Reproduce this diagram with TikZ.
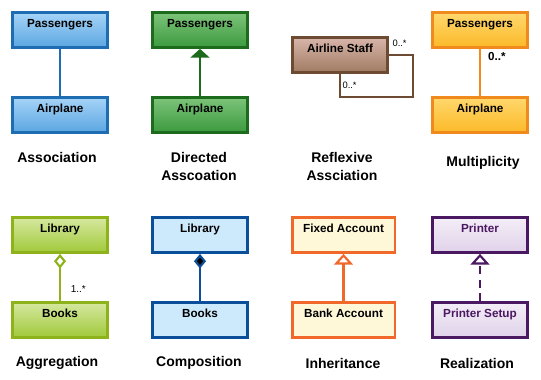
\documentclass[tikz,border=0pt]{standalone}
\usepackage{fontspec}
\setmainfont{Liberation Sans}
\usetikzlibrary{positioning,arrows.meta}

\definecolor{asTop}{HTML}{A6D4F8}
\definecolor{asBot}{HTML}{5BA6E1}
\definecolor{asLine}{HTML}{1E6CB1}
\definecolor{dirTop}{HTML}{7DC47A}
\definecolor{dirBot}{HTML}{3C9A3E}
\definecolor{dirLine}{HTML}{1D6B1D}
\definecolor{refTop}{HTML}{D8B5AA}
\definecolor{refBot}{HTML}{A07B62}
\definecolor{refLine}{HTML}{6D4B32}
\definecolor{mulTop}{HTML}{FFD86E}
\definecolor{mulBot}{HTML}{FBB928}
\definecolor{mulLine}{HTML}{F08A1C}
\definecolor{aggTop}{HTML}{D6E8A0}
\definecolor{aggBot}{HTML}{A0C93A}
\definecolor{aggLine}{HTML}{8DB21A}
\definecolor{comFill}{HTML}{CDEAFD}
\definecolor{comLine}{HTML}{0B4E99}
\definecolor{inhFill}{HTML}{FEF8D8}
\definecolor{inhLine}{HTML}{F0692B}
\definecolor{reaTop}{HTML}{F4EEF7}
\definecolor{reaBot}{HTML}{E0D2EA}
\definecolor{reaLine}{HTML}{4B1862}

\tikzstyle{cls}=[draw, line width=2pt, minimum width=71.5pt, inner xsep=2pt,
        inner ysep=0pt, text height=11.3pt, text depth=15pt,
        font=\fontsize{8.8}{10}\selectfont\bfseries]
\tikzstyle{caption}=[align=center, font=\fontsize{10.5}{13.5}\selectfont\bfseries]
\tikzstyle{mult}=[text=black, font=\fontsize{7}{8}\selectfont, inner sep=1pt]
\tikzstyle{rel}=[line width=1.6pt]

\begin{document}
\begin{tikzpicture}[x=0.75pt, y=-0.75pt, node distance=35.25pt]
        \useasboundingbox (0,0) rectangle (541,379);

        % association
        \node[cls, top color=asTop, bottom color=asBot, draw=asLine] (pas1) at (60,30) {Passengers};
        \node[cls, top color=asTop, bottom color=asBot, draw=asLine, below=of pas1] (air1) {Airplane};
        \draw[rel, asLine] (pas1) to (air1);
        \node[caption] (cap1) at (57,157) {Association};

        % directed association
        \node[cls, top color=dirTop, bottom color=dirBot, draw=dirLine] (pas2) at (200,30) {Passengers};
        \node[cls, top color=dirTop, bottom color=dirBot, draw=dirLine, below=of pas2] (air2) {Airplane};
        \draw[rel, dirLine, -{Triangle[width=14pt, length=6.5pt]}] (air2) to (pas2);
        \node[caption] (cap2) at (199,166) {Directed\\Asscoation};

        % reflexive association
        \node[cls, top color=refTop, bottom color=refBot, draw=refLine] (staff) at (340,55) {Airline Staff};
        \coordinate (loop) at (413,97);
        \draw[rel, refLine] (staff.east) -| (loop) -| (staff.south);
        \node[mult, anchor=west] (m1) at (391,43) {0..*};
        \node[mult, anchor=west] (m2) at (341,85) {0..*};
        \node[caption] (cap3) at (342,166) {Reflexive\\Assciation};

        % multiplicity
        \node[cls, top color=mulTop, bottom color=mulBot, draw=mulLine] (pas4) at (480,30) {Passengers};
        \node[cls, top color=mulTop, bottom color=mulBot, draw=mulLine, below=of pas4] (air4) {Airplane};
        \draw[rel, mulLine] (pas4) to node[pos=0.17, right, xshift=2pt, text=black,
            font=\fontsize{8.7}{10}\selectfont\bfseries] {0..*} (air4);
        \node[caption] (cap4) at (483,163) {Multiplicity};

        % aggregation
        \node[cls, top color=aggTop, bottom color=aggBot, draw=aggLine] (lib1) at (60,235) {Library};
        \node[cls, top color=aggTop, bottom color=aggBot, draw=aggLine, below=of lib1] (bk1) {Books};
        \draw[rel, aggLine, -{Diamond[open, fill=white, width=9pt, length=11pt]}] (bk1) to
            node[pos=0.25, right, xshift=4pt, text=black, font=\fontsize{7.5}{9}\selectfont] {1..*} (lib1);
        \node[caption] (cap5) at (57,363) {Aggregation};

        % composition
        \node[cls, fill=comFill, draw=comLine] (lib2) at (200,235) {Library};
        \node[cls, fill=comFill, draw=comLine, below=of lib2] (bk2) {Books};
        \draw[rel, comLine, -{Diamond[fill=black, width=9pt, length=11pt]}] (bk2) to (lib2);
        \node[caption] (cap6) at (199,363) {Composition};

        % inheritance
        \node[cls, fill=inhFill, draw=inhLine, minimum width=77pt] (fixed) at (343.5,235) {Fixed Account};
        \node[cls, fill=inhFill, draw=inhLine, minimum width=77pt, below=of fixed] (bank) {Bank Account};
        \draw[rel, inhLine, -{Triangle[open, fill=white, width=14pt, length=8pt]}] (bank) to (fixed);
        \node[caption] (cap7) at (343,363) {Inheritance};

        % realization
        \node[cls, top color=reaTop, bottom color=reaBot, draw=reaLine, text=reaLine] (prn) at (480,235) {Printer};
        \node[cls, top color=reaTop, bottom color=reaBot, draw=reaLine, text=reaLine, below=of prn] (setup) {Printer Setup};
        \draw[rel, reaLine, dash pattern=on 6pt off 4pt,
            -{Triangle[open, fill=white, width=14pt, length=8pt]}] (setup) to (prn);
        \node[caption] (cap8) at (477,363) {Realization};

\end{tikzpicture}
\end{document}
